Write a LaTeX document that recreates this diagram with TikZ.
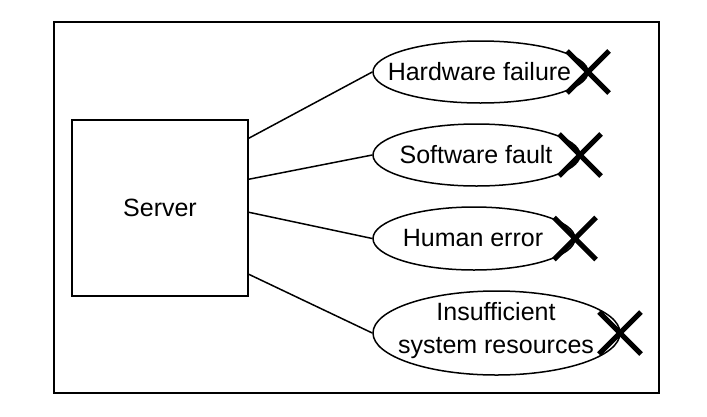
\documentclass[tikz,border=0pt]{standalone}
\usepackage{fontspec}
\setmainfont{Liberation Sans}
\usetikzlibrary{shapes.geometric,shapes.misc}
\begin{document}
\begin{tikzpicture}[x=1pt,y=-1pt,
  every node/.style={font=\fontsize{25}{28}\selectfont},
  frame/.style={draw,line width=2pt},
  serverbox/.style={draw,line width=1.5pt,minimum width=176pt,minimum height=176pt,inner sep=0pt},
  cause/.style={draw,ellipse,line width=1.5pt,inner sep=0pt},
  lbl/.style={align=center,inner sep=0pt},
  link/.style={line width=1.5pt},
  xmark/.style={cross out,draw,line width=5pt,minimum size=37pt,inner sep=0pt}]
\useasboundingbox (0,0) rectangle (707,416);
\draw[frame] (53.5,22) rectangle (659,393);
\node[serverbox] (server) at (160,208) {Server};
\node[cause,minimum width=215pt,minimum height=62pt] (e1) at (480.5,72) {};
\node[cause,minimum width=207pt,minimum height=62pt] (e2) at (476.5,155) {};
\node[cause,minimum width=202pt,minimum height=63pt] (e3) at (474,238.5) {};
\node[cause,minimum width=247pt,minimum height=84pt] (e4) at (496.5,333) {};
\node[lbl] (t1) at (479.5,72) {Hardware failure};
\node[lbl] (t2) at (476,155) {Software fault};
\node[lbl] (t3) at (473,238.5) {Human error};
\node[lbl] (t4) at (496,331) {Insufficient\\[5pt]system resources};
\node[xmark] (x1) at (588,72) {};
\node[xmark] (x2) at (580,155) {};
\node[xmark] (x3) at (575,238.5) {};
\node[xmark] (x4) at (620,333) {};
\draw[link] ([yshift=-19pt]server.north east) -- (e1.west);
\draw[link] ([yshift=-60pt]server.north east) -- (e2.west);
\draw[link] ([yshift=-93pt]server.north east) -- (e3.west);
\draw[link] ([yshift=-155pt]server.north east) -- (e4.west);
\end{tikzpicture}
\end{document}
